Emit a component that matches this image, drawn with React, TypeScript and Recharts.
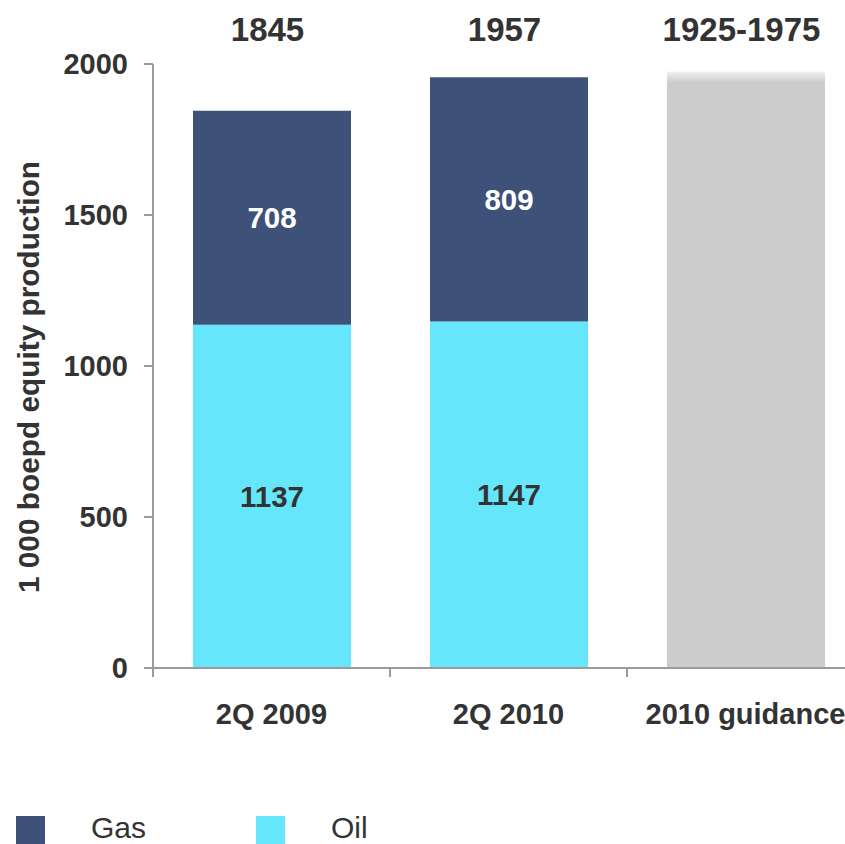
import React from 'react';
import { BarChart, Bar, XAxis, YAxis, LabelList, Label, Legend } from 'recharts';

const categories = ['2Q 2009', '2Q 2010', '2010 guidance'];
const oilValues: (number | null)[] = [1137, 1147, null];
const gasValues: (number | null)[] = [708, 809, null];
const guidanceHigh: (number | null)[] = [null, null, 1975];
const totalLabels = ['1845', '1957', '1925-1975'];
const yTicks = [0, 500, 1000, 1500, 2000];

const legendNames = ['Gas', 'Oil'];
const legendColors = ['#3E5179', '#66E6FA'];

const data = categories.map((c, i) => ({
  name: c,
  total: totalLabels[i],
  oil: oilValues[i],
  gas: gasValues[i],
  guide: guidanceHigh[i],
}));

const FONT = '"Liberation Sans", Arial, sans-serif';
const TEXT = '#333333';
const AXIS = '#9a9a9a';
const CAT_TICK_MARGIN = 35;
const CAT_TICK_LEN = 9;

const fmt = (v: any) => (v ? String(v) : '');

const renderYLabel = (props: any) => {
  const vb = props.viewBox || {};
  const x = vb.x + 39;
  const y = vb.y + vb.height / 2 + 11;
  return (
    <text
      x={x}
      y={y}
      transform={`rotate(-90, ${x}, ${y})`}
      textAnchor="middle"
      fontFamily={FONT}
      fontWeight="bold"
      fontSize={29.8}
      fill={TEXT}
    >
      1 000 boepd equity production
    </text>
  );
};

// category tick: label at band centre, tick mark at the band's left boundary
const CategoryTick = (props: any) => {
  const { x, y, payload } = props;
  const half = payload && typeof payload.offset === 'number' ? payload.offset : 0;
  const axisY = y - CAT_TICK_MARGIN;
  const bx = x - half;
  return (
    <g>
      <line x1={bx} y1={axisY} x2={bx} y2={axisY + CAT_TICK_LEN} stroke={AXIS} strokeWidth={2} />
      <text
        x={x}
        y={y}
        dy="0.71em"
        textAnchor="middle"
        fontFamily={FONT}
        fontWeight="bold"
        fontSize={29}
        fill={TEXT}
      >
        {payload ? payload.value : ''}
      </text>
    </g>
  );
};

const renderLegend = () => (
  <div style={{ position: 'relative', width: 400, height: 32, fontFamily: FONT }}>
    {legendNames.map((n, i) => (
      <div key={n} style={{ position: 'absolute', left: 16 + i * 240, top: 0, height: 32 }}>
        <div
          style={{
            position: 'absolute',
            left: 0,
            top: 4,
            width: 29,
            height: 29,
            background: legendColors[i],
          }}
        />
        <span
          style={{
            position: 'absolute',
            left: 75,
            top: 0,
            fontSize: 30,
            lineHeight: '32px',
            color: TEXT,
            whiteSpace: 'nowrap',
          }}
        >
          {n}
        </span>
      </div>
    ))}
  </div>
);

export default function App() {
  return (
    <div
      style={{
        position: 'absolute',
        left: 0,
        top: 0,
        width: 845,
        height: 844,
        overflow: 'hidden',
        background: '#ffffff',
      }}
    >
      <BarChart
        width={870}
        height={844}
        data={data}
        margin={{ top: 0, right: 6, bottom: 116, left: 0 }}
        barSize={158}
      >
        <defs>
          <linearGradient id="guideFade" x1="0" y1="0" x2="0" y2="1">
            <stop offset="0%" stopColor="#f2f2f2" />
            <stop offset="1.8%" stopColor="#cccccc" />
            <stop offset="100%" stopColor="#cccccc" />
          </linearGradient>
        </defs>
        <XAxis
          xAxisId="top"
          orientation="top"
          dataKey="total"
          type="category"
          height={64}
          axisLine={false}
          tickLine={false}
          tickSize={0}
          tickMargin={23}
          interval={0}
          tick={{ fontFamily: FONT, fontWeight: 'bold', fontSize: 33, fill: TEXT, dx: -4 }}
        />
        <XAxis
          xAxisId="cat"
          dataKey="name"
          type="category"
          height={60}
          axisLine={{ stroke: AXIS, strokeWidth: 2 }}
          tickLine={false}
          tickSize={0}
          tickMargin={CAT_TICK_MARGIN}
          interval={0}
          tick={<CategoryTick />}
        />
        <YAxis
          domain={[0, 2000]}
          ticks={yTicks}
          width={153}
          axisLine={{ stroke: AXIS, strokeWidth: 2 }}
          tickLine={{ stroke: AXIS, strokeWidth: 2 }}
          tickSize={9}
          tickMargin={16}
          interval={0}
          tick={{ fontFamily: FONT, fontWeight: 'bold', fontSize: 29, fill: TEXT }}
        >
          <Label content={renderYLabel} />
        </YAxis>
        <Legend
          layout="horizontal"
          verticalAlign="middle"
          align="center"
          content={renderLegend}
          wrapperStyle={{ position: 'absolute', left: 0, top: 812, width: 400, height: 32 }}
        />
        <Bar xAxisId="cat" dataKey="oil" name="Oil" stackId="a" fill="#66E6FA" isAnimationActive={false}>
          <LabelList
            dataKey="oil"
            position="center"
            formatter={fmt}
            style={{ fontFamily: FONT, fontWeight: 'bold', fontSize: 29.5, fill: TEXT }}
          />
        </Bar>
        <Bar xAxisId="cat" dataKey="gas" name="Gas" stackId="a" fill="#3E5179" isAnimationActive={false}>
          <LabelList
            dataKey="gas"
            position="center"
            formatter={fmt}
            style={{ fontFamily: FONT, fontWeight: 'bold', fontSize: 29.5, fill: '#ffffff' }}
          />
        </Bar>
        <Bar
          xAxisId="cat"
          dataKey="guide"
          name="Guidance"
          stackId="a"
          fill="url(#guideFade)"
          legendType="none"
          isAnimationActive={false}
        />
      </BarChart>
    </div>
  );
}
